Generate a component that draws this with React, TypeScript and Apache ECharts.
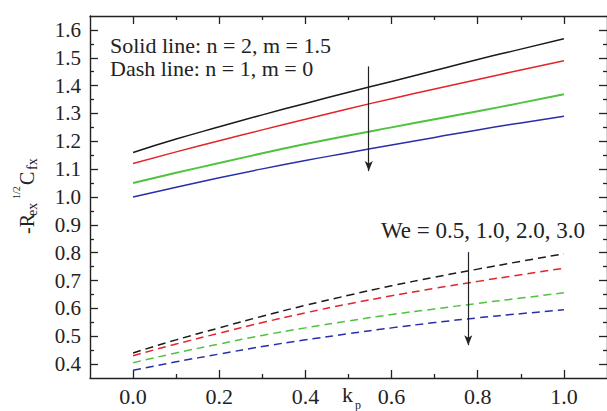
import React, { useEffect, useRef } from "react";
import * as echarts from "echarts";

// ---- data ----
const kp = [0, 0.1, 0.2, 0.3, 0.4, 0.5, 0.6, 0.7, 0.8, 0.9, 1.0];

// Solid lines: n = 2, m = 1.5 ; We = 0.5, 1.0, 2.0, 3.0
const solidWe05 = [1.160, 1.208, 1.252, 1.295, 1.336, 1.376, 1.415, 1.454, 1.494, 1.531, 1.568];
const solidWe10 = [1.120, 1.162, 1.202, 1.241, 1.279, 1.317, 1.353, 1.388, 1.422, 1.456, 1.489];
const solidWe20 = [1.050, 1.087, 1.122, 1.157, 1.190, 1.221, 1.250, 1.279, 1.308, 1.338, 1.369];
const solidWe30 = [1.000, 1.035, 1.069, 1.101, 1.131, 1.159, 1.187, 1.214, 1.241, 1.266, 1.290];

// Dash lines: n = 1, m = 0 ; We = 0.5, 1.0, 2.0, 3.0
const dashWe05 = [0.440, 0.487, 0.530, 0.572, 0.611, 0.647, 0.681, 0.712, 0.741, 0.769, 0.796];
const dashWe10 = [0.430, 0.472, 0.511, 0.549, 0.584, 0.616, 0.645, 0.672, 0.697, 0.721, 0.744];
const dashWe20 = [0.405, 0.440, 0.472, 0.503, 0.530, 0.555, 0.578, 0.598, 0.618, 0.637, 0.656];
const dashWe30 = [0.378, 0.408, 0.436, 0.463, 0.487, 0.509, 0.530, 0.549, 0.566, 0.581, 0.595];

const xMajorTicks = [0, 0.2, 0.4, 0.6, 0.8, 1.0];
const xMinorTicks = [0.1, 0.3, 0.5, 0.7, 0.9];
const yMajorTicks = [0.4, 0.5, 0.6, 0.7, 0.8, 0.9, 1.0, 1.1, 1.2, 1.3, 1.4, 1.5, 1.6];
const yMinorTicks = [0.45, 0.55, 0.65, 0.75, 0.85, 0.95, 1.05, 1.15, 1.25, 1.35, 1.45, 1.55];

// arrows (annotation, in data coordinates): [k, yFrom, yTo]
const arrowSolid = [0.547, 1.469, 1.093];
const arrowDash = [0.778, 0.802, 0.468];

const colors = ["#1a1a1a", "#e3242b", "#4fc23f", "#2a2ea8"];

const FONT = "Liberation Serif, Times New Roman, serif";
const AX = "#222";

const pair = (ys: number[]) => kp.map((x, i) => [x, ys[i]]);

export default function App() {
  const ref = useRef<HTMLDivElement>(null);
  useEffect(() => {
    if (!ref.current) return;
    const chart = echarts.init(ref.current, undefined, { renderer: "svg" });

    const baseX = { type: "value", min: -0.1, max: 1.1, splitLine: { show: false } };
    const baseY = { type: "value", min: 0.35, max: 1.65, splitLine: { show: false } };
    const line = { show: true, onZero: false, lineStyle: { color: AX, width: 1.4 } };
    const noLine = { show: false, onZero: false };

    const solids = [solidWe05, solidWe10, solidWe20, solidWe30];
    const dashes = [dashWe05, dashWe10, dashWe20, dashWe30];
    const series: any[] = [];
    solids.forEach((s, i) =>
      series.push({
        type: "line",
        data: pair(s),
        smooth: true,
        showSymbol: false,
        lineStyle: { color: colors[i], width: i === 2 ? 2 : 1.5 },
        silent: true,
      })
    );
    dashes.forEach((s, i) =>
      series.push({
        type: "line",
        data: pair(s),
        smooth: true,
        showSymbol: false,
        lineStyle: { color: colors[i], width: 1.5, type: [8, 5] },
        silent: true,
      })
    );
    const arrowLine = (a: number[]) => [
      { coord: [a[0], a[1]], symbol: "none" },
      { coord: [a[0], a[2]], symbol: "arrow" },
    ];
    series.push({
      type: "line",
      data: [],
      silent: true,
      markLine: {
        silent: true,
        animation: false,
        symbol: ["none", "arrow"],
        symbolSize: [6, 10],
        label: { show: false },
        lineStyle: { color: "#222", width: 1.2, type: "solid" },
        emphasis: { disabled: true },
        data: [arrowLine(arrowSolid), arrowLine(arrowDash)],
      },
    });

    const txt = (size: number) => ({ fontFamily: FONT, fontSize: size, fill: "#222" });

    chart.setOption({
      animation: false,
      textStyle: { fontFamily: FONT },
      grid: { left: 90, top: 16, bottom: 33, right: -3, containLabel: false },
      xAxis: [
        {
          ...baseX,
          position: "bottom",
          axisLine: line,
          axisTick: { inside: true, length: 8, customValues: xMajorTicks, lineStyle: { color: AX, width: 1.3 } },
          axisLabel: {
            customValues: xMajorTicks,
            formatter: (v: number) => v.toFixed(1),
            fontSize: 22,
            fontFamily: FONT,
            color: "#222",
            margin: 7,
          },
        },
        {
          ...baseX,
          position: "bottom",
          axisLine: noLine,
          axisTick: { inside: true, length: 4, customValues: xMinorTicks, lineStyle: { color: AX, width: 1.3 } },
          axisLabel: { show: false },
        },
        {
          ...baseX,
          position: "top",
          axisLine: line,
          axisTick: { inside: true, length: 8, customValues: xMajorTicks, lineStyle: { color: AX, width: 1.3 } },
          axisLabel: { show: false },
        },
        {
          ...baseX,
          position: "top",
          axisLine: noLine,
          axisTick: { inside: true, length: 4, customValues: xMinorTicks, lineStyle: { color: AX, width: 1.3 } },
          axisLabel: { show: false },
        },
      ],
      yAxis: [
        {
          ...baseY,
          position: "left",
          axisLine: line,
          axisTick: { inside: true, length: 8, customValues: yMajorTicks, lineStyle: { color: AX, width: 1.3 } },
          axisLabel: {
            customValues: yMajorTicks,
            formatter: (v: number) => v.toFixed(1),
            fontSize: 21,
            fontFamily: FONT,
            color: "#222",
            margin: 9,
          },
        },
        {
          ...baseY,
          position: "left",
          axisLine: noLine,
          axisTick: { inside: true, length: 4, customValues: yMinorTicks, lineStyle: { color: AX, width: 1.3 } },
          axisLabel: { show: false },
        },
        {
          ...baseY,
          position: "right",
          axisLine: line,
          axisTick: { inside: true, length: 8, customValues: yMajorTicks, lineStyle: { color: AX, width: 1.3 } },
          axisLabel: { show: false },
        },
        {
          ...baseY,
          position: "right",
          axisLine: noLine,
          axisTick: { inside: true, length: 4, customValues: yMinorTicks, lineStyle: { color: AX, width: 1.3 } },
          axisLabel: { show: false },
        },
      ],
      graphic: [
        { type: "text", left: 110, top: 34, style: { text: "Solid line: n = 2, m = 1.5", ...txt(22) } },
        { type: "text", left: 110, top: 57, style: { text: "Dash line: n = 1, m = 0", ...txt(22) } },
        { type: "text", right: 22, top: 219, style: { text: "We = 0.5, 1.0, 2.0, 3.0", ...txt(23) } },
        { type: "text", x: 342, y: 383, style: { text: "k", ...txt(22) } },
        { type: "text", x: 355, y: 399, style: { text: "p", ...txt(12) } },
        {
          type: "group",
          x: 0,
          y: 234,
          rotation: Math.PI / 2,
          children: [
            { type: "text", x: 0, y: 26.5, style: { text: "-R", ...txt(20), verticalAlign: "middle" } },
            { type: "text", x: 18, y: 32.5, style: { text: "ex", ...txt(14), verticalAlign: "middle" } },
            { type: "text", x: 35, y: 16.5, style: { text: "1/2", ...txt(10), verticalAlign: "middle" } },
            { type: "text", x: 49, y: 26.5, style: { text: "C", ...txt(20), verticalAlign: "middle" } },
            { type: "text", x: 64, y: 32.5, style: { text: "fx", ...txt(14), verticalAlign: "middle" } },
          ],
        },
      ],
      series,
    });
    return () => chart.dispose();
  }, []);
  return (
    <div
      ref={ref}
      style={{ position: "absolute", left: 0, top: 0, width: 607, height: 411, background: "#fff" }}
    />
  );
}
